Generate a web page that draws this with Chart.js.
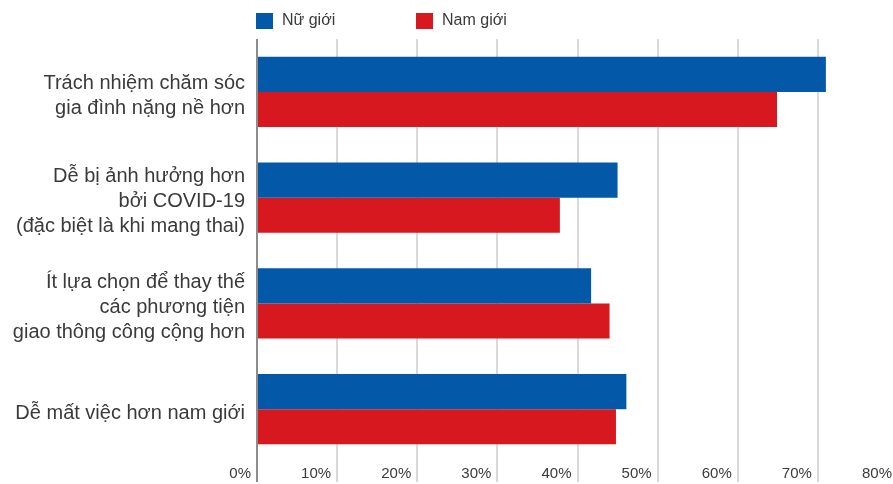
<!DOCTYPE html>
<html>
<head>
<meta charset="utf-8">
<script src="https://cdn.jsdelivr.net/npm/chart.js@4"></script>
<style>
  html, body { margin: 0; padding: 0; background: #fff; overflow: hidden; }
  #wrap { width: 893px; height: 484px; overflow: hidden; }
</style>
</head>
<body>
<div id="wrap"><canvas id="chart" width="900" height="484"></canvas></div>
<script>
// --- data ---
const categories = [
  ["Trách nhiệm chăm sóc", "gia đình nặng nề hơn"],
  ["Dễ bị ảnh hưởng hơn", "bởi COVID-19", "(đặc biệt là khi mang thai)"],
  ["Ít lựa chọn để thay thế", "các phương tiện", "giao thông công cộng hơn"],
  ["Dễ mất việc hơn nam giới"]
];
const seriesNames = ["Nữ giới", "Nam giới"];
const femaleValues = [71.0, 45.0, 41.7, 46.1];
const maleValues = [64.9, 37.8, 44.0, 44.8];
const xTicks = [0, 10, 20, 30, 40, 50, 60, 70, 80];

const BLUE = "#0358a7";
const RED = "#d7191f";
const TEXT = "#3a3a3a";
const FONT = "'Liberation Sans', Arial, sans-serif";

// legend drawn at the top, starting over the axis line
const topLegend = {
  id: "topLegend",
  afterDraw(chart, args, opts) {
    const ctx = chart.ctx;
    const left = chart.chartArea.left;
    ctx.save();
    chart.data.datasets.forEach((ds, i) => {
      const x = left + opts.offsets[i];
      ctx.fillStyle = ds.backgroundColor;
      ctx.fillRect(x, 13, 17, 16);
      ctx.fillStyle = TEXT;
      ctx.font = "16px " + FONT;
      ctx.textBaseline = "middle";
      ctx.textAlign = "left";
      ctx.fillText(ds.label, x + 26, 21);
    });
    ctx.restore();
  }
};

new Chart(document.getElementById("chart"), {
  type: "bar",
  data: {
    labels: categories,
    datasets: [
      { label: seriesNames[0], data: femaleValues, backgroundColor: BLUE },
      { label: seriesNames[1], data: maleValues, backgroundColor: RED }
    ]
  },
  options: {
    indexAxis: "y",
    responsive: false,
    animation: false,
    devicePixelRatio: 1,
    layout: { padding: { top: 39, right: 2, left: 0, bottom: 0 } },
    datasets: { bar: { barPercentage: 1, categoryPercentage: 0.662 } },
    plugins: {
      legend: { display: false },
      tooltip: { enabled: false },
      topLegend: { offsets: [-1, 159] }
    },
    scales: {
      x: {
        min: 0,
        max: 80,
        afterBuildTicks: s => { s.ticks = xTicks.map(v => ({ value: v })); },
        afterFit: s => { s.height = 22; s.paddingLeft = 0; s.paddingRight = 0; },
        border: { display: false },
        grid: {
          color: c => (c.tick && c.tick.value === 0 ? "#8c8c8c" : "#d9d9d9"),
          lineWidth: 2,
          drawTicks: true,
          tickLength: 20
        },
        ticks: {
          align: "end",
          labelOffset: -6,
          padding: -17,
          color: TEXT,
          font: { family: FONT, size: 15 },
          callback: v => v + "%"
        }
      },
      y: {
        afterFit: s => { s.width = 257; s.paddingTop = 0; s.paddingBottom = 0; },
        border: { display: false },
        grid: { display: false, drawTicks: false },
        ticks: {
          padding: 12,
          labelOffset: 4,
          color: TEXT,
          font: { family: FONT, size: 20, lineHeight: 1.25 }
        }
      }
    }
  },
  plugins: [topLegend]
});
</script>
</body>
</html>
